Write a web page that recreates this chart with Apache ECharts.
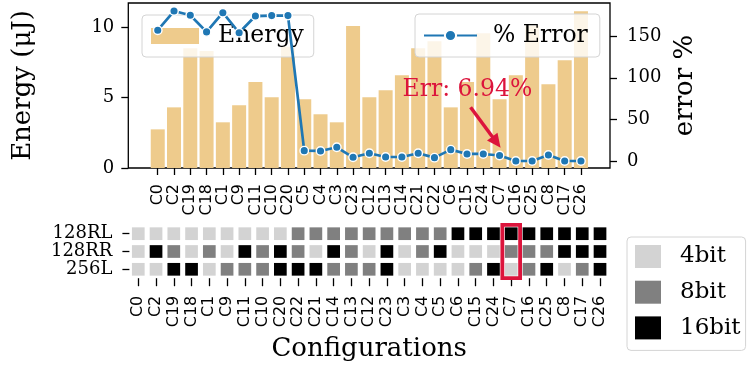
<!DOCTYPE html>
<html>
<head>
<meta charset="utf-8">
<script src="https://cdn.jsdelivr.net/npm/echarts@6/dist/echarts.min.js"></script>
<style>
  html, body { margin: 0; padding: 0; background: #ffffff; }
  #chart { width: 749px; height: 369px; }
</style>
</head>
<body>
<div id="chart"></div>
<script>
// ---- data ----
const barCats = ['C0','C2','C19','C18','C1','C9','C11','C10','C20','C5','C4','C3','C23','C12',
                 'C13','C14','C21','C22','C6','C15','C24','C7','C16','C25','C8','C17','C26'];
const energy = [2.74, 4.30, 8.49, 8.30, 3.24, 4.45, 6.10, 5.01, 8.60, 4.87, 3.81, 3.24, 10.07, 5.01,
                5.51, 6.57, 8.49, 8.99, 4.30, 6.10, 9.55, 4.87, 6.57, 10.10, 5.94, 7.64, 11.11];
const errorPct = [157, 180, 175, 155, 178, 154, 174, 174.5, 174.5, 12.8, 12.4, 16.8, 4.8, 9.6,
                  5.2, 5.2, 9.6, 4.4, 14.0, 8.8, 8.8, 6.94, 0.4, 0.4, 7.6, 0.4, 0.4];
const energyTicks = [0, 5, 10];
const errorTicks = [0, 50, 100, 150];

const heatCats = ['C0','C2','C19','C18','C1','C9','C11','C10','C20','C22','C21','C14','C13','C12',
                  'C23','C3','C4','C5','C6','C15','C24','C7','C16','C25','C8','C17','C26'];
const rowLabels = ['128RL', '128RR', '256L'];
const bits128RL = [4,4,4,4,4,4,4,4,4, 8,8,8,8,8,8,8,8,8, 16,16,16,16,16,16,16,16,16];
const bits128RR = [4,16,8,4,8,4,16,8,16, 8,4,16,8,4,16,4,8,16, 4,4,4,8,8,8,16,16,16];
const bits256L  = [4,4,16,16,4,8,8,8,16, 16,16,8,8,8,16,4,4,4, 4,8,16,4,8,16,4,8,16];
const bitLevels = [4, 8, 16];
const bitNames = ['4bit', '8bit', '16bit'];
const bitColors = ['#d3d3d3', '#808080', '#000000'];

const highlightCfg = 'C7';
const highlightText = 'Err: 6.94%';

// ---- styling ----
const SERIF = '"DejaVu Serif", serif';
const SANS = '"DejaVu Sans", sans-serif';
const BAR_COLOR = '#EECB8C';
const LINE_COLOR = '#1f77b4';
const ACCENT = '#dc143c';
const CAT_FONT = 16;

const chart = echarts.init(document.getElementById('chart'), null, { renderer: 'canvas' });

// rows per bit level -> one scatter series per level
const rowsBits = [bits128RL, bits128RR, bits256L];
const heatSeries = bitLevels.map((lvl, k) => {
  const pts = [];
  rowsBits.forEach((bits, r) => {
    bits.forEach((b, i) => { if (b === lvl) pts.push([heatCats[i], rowLabels[r]]); });
  });
  return {
    name: bitNames[k],
    type: 'scatter',
    xAxisIndex: 2, yAxisIndex: 4,
    symbol: 'rect',
    symbolSize: 12.7,
    itemStyle: { color: bitColors[k], opacity: 1 },
    emphasis: { disabled: true },
    data: pts,
    z: 2
  };
});

const tickStyle = { show: true, length: 7, lineStyle: { color: '#000', width: 1.3 } };
const catLabel = { rotate: 90, fontFamily: SANS, fontSize: CAT_FONT, color: '#000', interval: 0,
                   hideOverlap: false };

const option = {
  animation: false,
  backgroundColor: '#ffffff',
  grid: [
    // frame of the upper panel (carries the visible y axes)
    { left: 128.3, right: 139, top: 3, height: 165, show: true, borderColor: '#000', borderWidth: 1.3,
      backgroundColor: 'transparent', containLabel: false },
    // bar/line area (category bands)
    { left: 149.6, right: 159.9, top: 3, height: 165, containLabel: false },
    // bit-width grid
    { left: 129.4, right: 140.1, top: 224.8, height: 53.4, containLabel: false }
  ],
  xAxis: [
    { gridIndex: 0, type: 'value', min: 0, max: 1, show: false },
    { gridIndex: 1, type: 'category', data: barCats, boundaryGap: true,
      axisLine: { show: false },
      axisTick: Object.assign({ alignWithLabel: true }, tickStyle),
      axisLabel: Object.assign({ margin: 16 }, catLabel),
      splitLine: { show: false } },
    { gridIndex: 2, type: 'category', data: heatCats, boundaryGap: true,
      axisLine: { show: false },
      axisTick: Object.assign({ alignWithLabel: true }, tickStyle, { length: 8 }),
      axisLabel: Object.assign({ margin: 17.5 }, catLabel),
      splitLine: { show: false },
      name: 'Configurations', nameLocation: 'middle', nameGap: 71,
      nameTextStyle: { fontFamily: SERIF, fontSize: 26, color: '#000', verticalAlign: 'middle' } }
  ],
  yAxis: [
    { gridIndex: 0, type: 'value', position: 'left', min: 0, max: 11.7,
      axisLine: { show: false },
      axisTick: Object.assign({ customValues: energyTicks }, tickStyle),
      axisLabel: { customValues: energyTicks, margin: 14, fontFamily: SERIF, fontSize: 18, color: '#000' },
      splitLine: { show: false },
      name: 'Energy (\u03bcJ)', nameLocation: 'middle', nameGap: 105, nameRotate: 90,
      nameTextStyle: { fontFamily: SERIF, fontSize: 26, color: '#000', verticalAlign: 'middle' } },
    { gridIndex: 0, type: 'value', position: 'right', min: -8, max: 189.6,
      axisLine: { show: false },
      axisTick: Object.assign({ customValues: errorTicks }, tickStyle),
      axisLabel: { customValues: errorTicks, margin: 17, fontFamily: SERIF, fontSize: 18, color: '#000' },
      splitLine: { show: false },
      name: 'error %', nameLocation: 'middle', nameGap: 72.5, nameRotate: 90,
      nameTextStyle: { fontFamily: SERIF, fontSize: 26, color: '#000', verticalAlign: 'middle' } },
    { gridIndex: 1, type: 'value', position: 'left', min: 0, max: 11.7, show: false },
    { gridIndex: 1, type: 'value', position: 'right', min: -8, max: 189.6, show: false },
    { gridIndex: 2, type: 'category', data: rowLabels, inverse: true, boundaryGap: true,
      axisLine: { show: false },
      axisTick: Object.assign({ alignWithLabel: true }, tickStyle),
      axisLabel: { margin: 17, fontFamily: SERIF, fontSize: 18, color: '#000', interval: 0 },
      splitLine: { show: false } }
  ],
  legend: [
    { data: ['Energy'], left: 142, top: 15, orient: 'horizontal',
      icon: 'rect', itemWidth: 48, itemHeight: 16,
      padding: [9, 10, 9, 9],
      backgroundColor: 'rgba(255,255,255,0.8)', borderColor: '#d4d4d4', borderWidth: 1, borderRadius: 4,
      textStyle: { fontFamily: SERIF, fontSize: 23.5, color: '#000', padding: [0, 0, 0, 14], lineHeight: 24 },
      selectedMode: false, z: 3 },
    { data: ['% Error'], left: 415, top: 14, orient: 'horizontal',
      itemWidth: 53, itemHeight: 14,
      padding: [9, 12, 9, 8],
      backgroundColor: 'rgba(255,255,255,0.8)', borderColor: '#d4d4d4', borderWidth: 1, borderRadius: 4,
      textStyle: { fontFamily: SERIF, fontSize: 23.5, color: '#000', padding: [0, 0, 0, 11], lineHeight: 25 },
      selectedMode: false, z: 8 },
    { data: bitNames, left: 627, top: 237, orient: 'vertical',
      icon: 'rect', itemWidth: 26, itemHeight: 23, itemGap: 12.7,
      padding: [8, 5, 11, 8],
      backgroundColor: '#ffffff', borderColor: '#d4d4d4', borderWidth: 1, borderRadius: 4,
      textStyle: { fontFamily: SERIF, fontSize: 23, color: '#000', padding: [0, 0, 0, 14] },
      selectedMode: false, z: 3 }
  ],
  series: [
    { name: 'Energy', type: 'bar', xAxisIndex: 1, yAxisIndex: 2,
      data: energy, barWidth: 14,
      itemStyle: { color: BAR_COLOR },
      emphasis: { disabled: true }, z: 2 },
    { name: '% Error', type: 'line', xAxisIndex: 1, yAxisIndex: 3,
      data: errorPct,
      symbol: 'circle', symbolSize: 8.5, showSymbol: true,
      lineStyle: { color: LINE_COLOR, width: 2.7 },
      itemStyle: { color: LINE_COLOR, borderColor: '#ffffff', borderWidth: 1.4 },
      emphasis: { disabled: true }, z: 5 }
  ].concat(heatSeries)
};

chart.setOption(option);

// ---- annotation: arrow + label pointing at the highlighted configuration ----
const idx = barCats.indexOf(highlightCfg);
const p = chart.convertToPixel({ xAxisIndex: 1, yAxisIndex: 3 }, [highlightCfg, errorPct[idx]]);
const tip = [p[0] + 1, p[1] - 7.7];
const tail = [p[0] - 29, p[1] - 48.3];
const dx = tip[0] - tail[0], dy = tip[1] - tail[1];
const len = Math.hypot(dx, dy);
const ux = dx / len, uy = dy / len;
const headLen = 14, headHalf = 6.5;
const base = [tip[0] - headLen * ux, tip[1] - headLen * uy];
const nx = -uy, ny = ux;

// ---- highlight frame around the matching column of the bit grid ----
const hc = chart.convertToPixel({ xAxisIndex: 2, yAxisIndex: 4 }, [highlightCfg, rowLabels[0]]);
const hNext = chart.convertToPixel({ xAxisIndex: 2, yAxisIndex: 4 }, [heatCats[1], rowLabels[0]]);
const hFirst = chart.convertToPixel({ xAxisIndex: 2, yAxisIndex: 4 }, [heatCats[0], rowLabels[0]]);
const band = hNext[0] - hFirst[0];
const heatGrid = option.grid[2];

chart.setOption({
  graphic: [
    { type: 'text', x: p[0] - 97, y: p[1] - 66, z: 20,
      style: { text: highlightText, fill: ACCENT, font: '23.5px ' + SERIF, verticalAlign: 'middle', align: 'left' } },
    { type: 'line', z: 20,
      shape: { x1: tail[0], y1: tail[1], x2: base[0] + ux * 2, y2: base[1] + uy * 2 },
      style: { stroke: ACCENT, lineWidth: 3.5 } },
    { type: 'polygon', z: 20,
      shape: { points: [tip, [base[0] + nx * headHalf, base[1] + ny * headHalf], [base[0] - nx * headHalf, base[1] - ny * headHalf]] },
      style: { fill: ACCENT } },
    { type: 'rect', z: 20,
      shape: { x: hc[0] - band / 2, y: heatGrid.top, width: band, height: heatGrid.height },
      style: { fill: 'none', stroke: ACCENT, lineWidth: 3.8 } }
  ]
});
</script>
</body>
</html>
